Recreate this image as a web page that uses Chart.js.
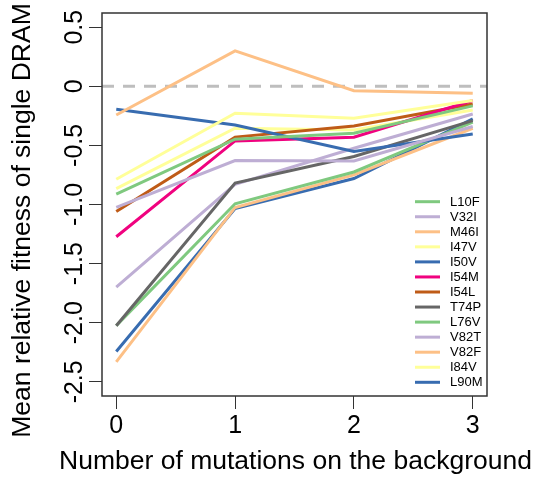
<!DOCTYPE html>
<html>
<head>
<meta charset="utf-8">
<script src="https://cdn.jsdelivr.net/npm/chart.js@4/dist/chart.umd.min.js"></script>
<style>
  html, body { margin: 0; padding: 0; background: #fff; }
  #wrap { width: 536px; height: 480px; }
</style>
</head>
<body>
<div id="wrap"><canvas id="c" width="536" height="480"></canvas></div>
<script>
// ---- data ----
const xValues = [0, 1, 2, 3];
const mutationLabels = ["L10F","V32I","M46I","I47V","I50V","I54M","I54L","T74P","L76V","V82T","V82F","I84V","L90M"];
const L10F = [-0.912, -0.448, -0.397, -0.166];
const V32I = [-1.025, -0.628, -0.631, -0.340];
const M46I = [-0.243,  0.300, -0.037, -0.059];
const I47V = [-0.786, -0.228, -0.270, -0.120];
const I50V = [-0.194, -0.327, -0.552, -0.403];
const I54M = [-1.273, -0.462, -0.431, -0.120];
const I54L = [-1.059, -0.430, -0.335, -0.150];
const T74P = [-2.025, -0.819, -0.594, -0.290];
const L76V = [-2.025, -0.994, -0.725, -0.304];
const V82T = [-1.698, -0.830, -0.524, -0.234];
const V82F = [-2.331, -1.025, -0.749, -0.355];
const I84V = [-0.865, -0.355, -0.369, -0.200];
const L90M = [-2.244, -1.035, -0.780, -0.276];
const seriesValues = [L10F, V32I, M46I, I47V, I50V, I54M, I54L, T74P, L76V, V82T, V82F, I84V, L90M];
const xTickValues = [0, 1, 2, 3];
const yTickValues = [0.5, 0, -0.5, -1.0, -1.5, -2.0, -2.5];
const yTickLabels = ["0.5", "0", "-0.5", "-1.0", "-1.5", "-2.0", "-2.5"];
const referenceLine = 0;

const palette = ["#7FC97F","#BEAED4","#FDC086","#FFFF99","#386CB0","#F0027F","#BF5B17","#666666"];
const FONT = "'Liberation Sans', Arial, Helvetica, sans-serif";

const datasets = mutationLabels.map((name, i) => ({
  label: name,
  data: seriesValues[i].map((v, j) => ({ x: xValues[j], y: v })),
  borderColor: palette[i % palette.length],
  backgroundColor: palette[i % palette.length],
  borderWidth: 3,
  pointRadius: 0,
  tension: 0,
  fill: false
}));

const boxAndText = {
  id: 'boxAndText',
  beforeDatasetsDraw(chart) {
    const { ctx, chartArea: a, scales: { y } } = chart;
    const py = y.getPixelForValue(referenceLine);
    ctx.save();
    ctx.strokeStyle = '#BEBEBE';
    ctx.lineWidth = 3;
    ctx.setLineDash([12, 9]);
    ctx.beginPath();
    ctx.moveTo(a.left, py);
    ctx.lineTo(a.right, py);
    ctx.stroke();
    ctx.restore();
  },
  afterDraw(chart) {
    const { ctx, chartArea: a, scales: { y } } = chart;
    ctx.save();
    // box
    ctx.strokeStyle = '#333';
    ctx.lineWidth = 1.5;
    ctx.strokeRect(a.left, a.top, a.right - a.left, a.bottom - a.top);
    // y tick labels (rotated, as in R)
    ctx.fillStyle = '#000';
    ctx.font = '25px ' + FONT;
    ctx.textAlign = 'center';
    ctx.textBaseline = 'alphabetic';
    yTickValues.forEach((v, i) => {
      const p = y.getPixelForValue(v);
      ctx.save();
      ctx.translate(82, p);
      ctx.rotate(-Math.PI / 2);
      ctx.fillText(yTickLabels[i], 0, 0);
      ctx.restore();
    });
    // y title
    ctx.font = '26.5px ' + FONT;
    ctx.save();
    ctx.translate(30, (a.top + a.bottom) / 2 + 16);
    ctx.rotate(-Math.PI / 2);
    ctx.fillText('Mean relative fitness of single DRAM', 0, 0);
    ctx.restore();
    // x title
    ctx.fillText('Number of mutations on the background', (a.left + a.right) / 2 + 1, 469);
    // legend
    ctx.font = '13px ' + FONT;
    ctx.textAlign = 'left';
    ctx.textBaseline = 'middle';
    chart.data.datasets.forEach((ds, i) => {
      const ly = 201.7 + i * 15.05;
      ctx.strokeStyle = ds.borderColor;
      ctx.lineWidth = 3;
      ctx.beginPath();
      ctx.moveTo(415, ly);
      ctx.lineTo(440, ly);
      ctx.stroke();
      ctx.fillStyle = '#000';
      ctx.fillText(ds.label, 450, ly + 0.5);
    });
    ctx.restore();
  }
};

new Chart(document.getElementById('c'), {
  type: 'line',
  data: { datasets },
  options: {
    responsive: false,
    animation: false,
    devicePixelRatio: 1,
    layout: { padding: { left: 0, right: 49, top: 13, bottom: 0 } },
    plugins: { legend: { display: false }, tooltip: { enabled: false } },
    scales: {
      x: {
        type: 'linear',
        min: -0.12, max: 3.12,
        afterBuildTicks: s => { s.ticks = xTickValues.map(v => ({ value: v })); },
        afterFit: s => { s.height = 84; },
        border: { display: false },
        grid: { drawOnChartArea: false, drawTicks: true, tickLength: 13, color: '#333', lineWidth: 1 },
        ticks: { color: '#000', font: { family: FONT, size: 25 }, padding: 2, maxRotation: 0, autoSkip: false,
                 callback: v => String(v) }
      },
      y: {
        type: 'linear',
        min: -2.62, max: 0.62,
        afterBuildTicks: s => { s.ticks = yTickValues.map(v => ({ value: v })); },
        afterFit: s => { s.width = 102; },
        border: { display: false },
        grid: { drawOnChartArea: false, drawTicks: true, tickLength: 13, color: '#333', lineWidth: 1 },
        ticks: { display: false }
      }
    }
  },
  plugins: [boxAndText]
});
</script>
</body>
</html>
